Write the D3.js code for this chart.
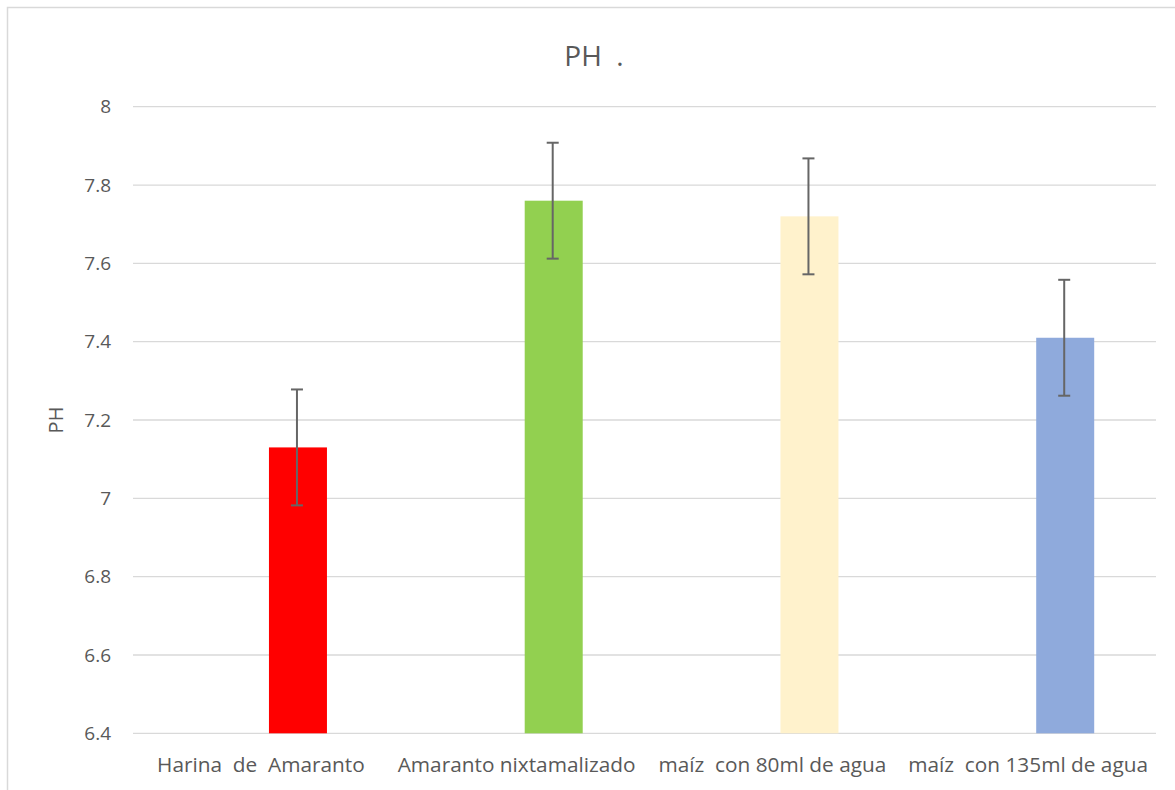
<!DOCTYPE html>
<html><head><meta charset="utf-8">
<script src="https://cdn.jsdelivr.net/npm/d3@7"></script>
<style>body{margin:0;background:#fff;} svg{display:block;}</style>
</head><body>
<script>
const categories = ["Harina  de  Amaranto", "Amaranto nixtamalizado", "maíz  con 80ml de agua", "maíz  con 135ml de agua"];
const values = [7.13, 7.76, 7.72, 7.41];
const errors = [0.148, 0.148, 0.148, 0.148];
const colors = ["#FF0000", "#92D050", "#FFF2CC", "#8FAADC"];
const yTicks = [6.4, 6.6, 6.8, 7, 7.2, 7.4, 7.6, 7.8, 8];
const chartTitle = "PH  .";
const yTitle = "PH";

(function () {
const W = 1175, H = 790;
const svg = d3.select("body").append("svg").attr("width", W).attr("height", H);
svg.append("rect").attr("x", 7.5).attr("y", 7.5).attr("width", W).attr("height", H)
  .attr("fill", "#fff").attr("stroke", "#d9d9d9").attr("stroke-width", 1.5);

const mLeft = 133, mRight = 1156, mTop = 106.7, mBottom = 733.3;
const x = d3.scaleBand().domain(categories).range([mLeft, mRight]).padding(0);
const y = d3.scaleLinear().domain([6.4, 8]).range([mBottom, mTop]);
const font = "'Open Sans', 'Segoe UI', sans-serif";

// gridlines
svg.append("g").selectAll("line").data(yTicks).join("line")
  .attr("x1", mLeft).attr("x2", mRight)
  .attr("y1", d => y(d)).attr("y2", d => y(d))
  .attr("stroke", "#d9d9d9").attr("stroke-width", 1.3);

// y tick labels
svg.append("g").selectAll("text").data(yTicks).join("text")
  .attr("x", 111).attr("y", d => y(d)).attr("dy", "0.35em")
  .attr("text-anchor", "end").attr("font-family", font).attr("font-size", 19)
  .attr("fill", "#595959").text(d => d3.format("")(d));

// bars (offset within band as in clustered layout)
const barW = 58;
const offset = x.bandwidth() * 0.145;
const cx = d => x(d) + x.bandwidth() / 2 + offset;
svg.append("g").selectAll("rect").data(categories).join("rect")
  .attr("x", d => cx(d) - barW / 2).attr("width", barW)
  .attr("y", (d, i) => y(values[i])).attr("height", (d, i) => y(6.4) - y(values[i]))
  .attr("fill", (d, i) => colors[i]);

// error bars
const eg = svg.append("g").attr("stroke", "#666666").attr("stroke-width", 2);
categories.forEach((c, i) => {
  const xc = cx(c) - 1;
  const y1 = y(values[i] + errors[i]), y2 = y(values[i] - errors[i]);
  eg.append("line").attr("x1", xc).attr("x2", xc).attr("y1", y1).attr("y2", y2);
  eg.append("line").attr("x1", xc - 6).attr("x2", xc + 6).attr("y1", y1).attr("y2", y1);
  eg.append("line").attr("x1", xc - 6).attr("x2", xc + 6).attr("y1", y2).attr("y2", y2);
});

// category labels
svg.append("g").selectAll("text").data(categories).join("text")
  .attr("x", d => x(d) + x.bandwidth() / 2).attr("y", 772)
  .attr("text-anchor", "middle").attr("font-family", font).attr("font-size", 20.8)
  .attr("fill", "#595959").style("white-space", "pre")
  .text(d => d);

// title
svg.append("text").attr("x", 594).attr("y", 66).attr("text-anchor", "middle")
  .attr("font-family", font).attr("font-size", 28).attr("fill", "#595959")
  .style("white-space", "pre").text(chartTitle);

// y axis title
svg.append("text").attr("transform", "translate(63,420) rotate(-90)")
  .attr("text-anchor", "middle").attr("font-family", font).attr("font-size", 20)
  .attr("fill", "#595959").text(yTitle);
})();
</script>
</body></html>
